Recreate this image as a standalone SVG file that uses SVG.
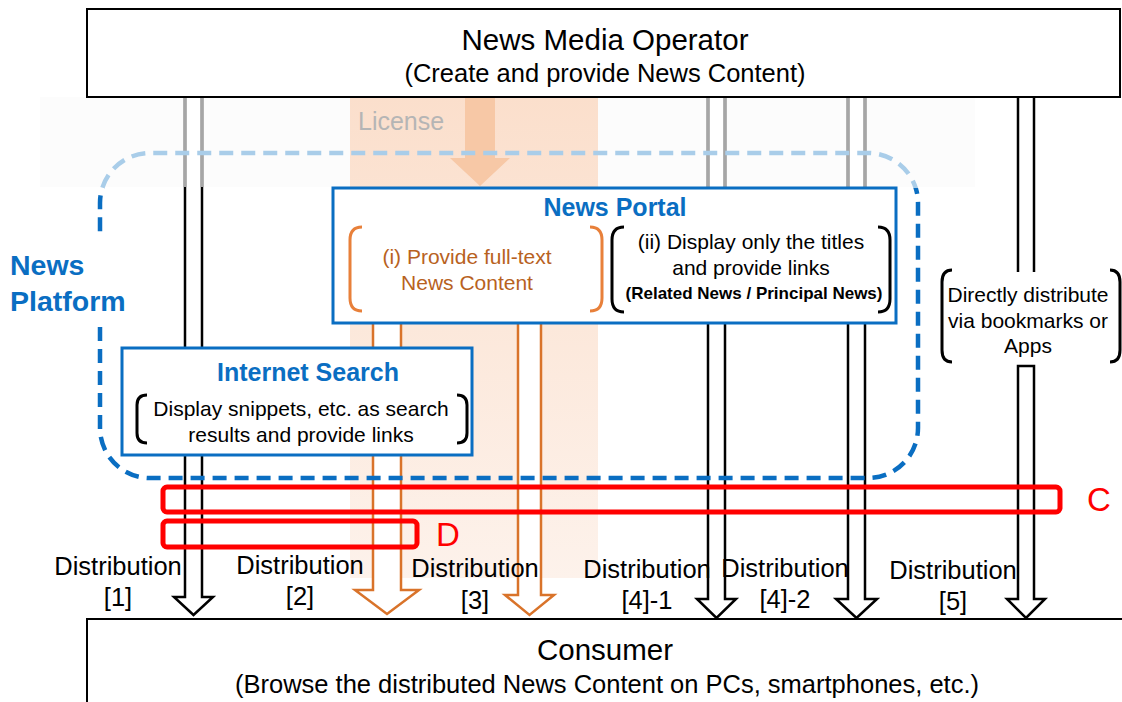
<svg xmlns="http://www.w3.org/2000/svg" width="1122" height="702" viewBox="0 0 1122 702">
<style>
text{font-family:"Liberation Sans",Arial,sans-serif;}
.box{fill:#fff;stroke:#000;stroke-width:2;}
.blue{fill:#fff;stroke:#0a6ec2;stroke-width:3;}
.t1{font-size:29.5px;text-anchor:middle;fill:#000;}
.t2{font-size:25.5px;text-anchor:middle;fill:#000;}
.tb{font-size:25px;font-weight:bold;text-anchor:middle;fill:#0a6ec2;}
.body{font-size:21px;text-anchor:middle;fill:#000;}
.org{font-size:21px;text-anchor:middle;fill:#b8621e;}
.dist{font-size:25.5px;text-anchor:middle;fill:#000;}
.brk{fill:none;stroke:#000;stroke-width:3;}
.brko{fill:none;stroke:#e8803a;stroke-width:3;}
.arr{fill:#fff;stroke:#000;stroke-width:2.5;}
.arro{fill:#fff;stroke:#d9732a;stroke-width:2.5;}
.gray{stroke:#a6a6a6;stroke-width:3;}
.red{fill:none;stroke:#f00;stroke-width:5;}
.redt{font-size:33px;fill:#f00;}
.dash{fill:none;stroke-width:4.5;stroke-dasharray:14 8;}
</style>
<defs>
<linearGradient id="band" x1="0" y1="0" x2="0" y2="1">
<stop offset="0" stop-color="#fbdfcc"/>
<stop offset="1" stop-color="#fdf2eb"/>
</linearGradient>
<clipPath id="upper"><rect x="0" y="0" width="1122" height="188"/></clipPath>
<clipPath id="lower"><rect x="0" y="188" width="1122" height="514"/></clipPath>
<path id="plat" d="M100,327 V428 A50,50 0 0 0 150,478 H868 A50,50 0 0 0 918,428 V203 A50,50 0 0 0 868,153 H150 A50,50 0 0 0 100,203 V237"/>
</defs>
<rect x="0" y="0" width="1122" height="702" fill="#fff"/>
<rect x="40" y="97" width="935" height="90" fill="#fcfcfc"/>
<rect x="350" y="97" width="248" height="481" fill="url(#band)"/>
<g id="license">
<polygon points="465,97 495,97 495,158 510,158 480,186 450,158 465,158" fill="#f7c8a6"/>
<text x="358" y="130" style="font-size:25px;fill:#b5b5b5;">License</text>
</g>
<g id="connectors">
<path class="arr" d="M185,97 V597 H174 L193.5,615 L213,597 H202 V97"/>
<path class="arro" d="M373,323 V590 H355 L387,614 L419,590 H401 V323"/>
<path class="arro" d="M518,323 V595 H505 L529.5,615 L554,595 H541 V323"/>
<path class="arr" d="M708,97 V599 H697 L716.5,618 L736,599 H725 V97"/>
<path class="arr" d="M848,97 V599 H836 L856.5,618 L877,599 H865 V97"/>
<path class="arr" d="M1018,366 V599 H1007 L1026,618 L1045,599 H1034 V366 Z"/>
<line x1="1018" y1="97" x2="1018" y2="272" stroke="#000" stroke-width="2.5"/>
<line x1="1034" y1="97" x2="1034" y2="272" stroke="#000" stroke-width="2.5"/>
<g class="gray">
<line x1="185" y1="98" x2="185" y2="187"/><line x1="202" y1="98" x2="202" y2="187"/>
<line x1="708" y1="98" x2="708" y2="187"/><line x1="725" y1="98" x2="725" y2="187"/>
<line x1="848" y1="98" x2="848" y2="187"/><line x1="865" y1="98" x2="865" y2="187"/>
</g>
</g>
<g id="news-platform">
<use href="#plat" class="dash" stroke="#a9cde9" clip-path="url(#upper)"/>
<use href="#plat" class="dash" stroke="#0a6ec2" clip-path="url(#lower)"/>
<text x="10" y="275" style="font-size:28.5px;font-weight:bold;fill:#0a6ec2;">News</text>
<text x="10" y="311" style="font-size:28.5px;font-weight:bold;fill:#0a6ec2;">Platform</text>
</g>
<g id="news-media-operator">
<rect class="box" x="87" y="9" width="1033" height="88"/>
<text class="t1" x="605" y="50">News Media Operator</text>
<text class="t2" x="605" y="82">(Create and provide News Content)</text>
</g>
<g id="news-portal">
<rect class="blue" x="333" y="188" width="563" height="135"/>
<text class="tb" x="615" y="216">News Portal</text>
<path class="brko" d="M362,227 Q350,227 350,240 V298 Q350,311 362,311"/>
<path class="brko" d="M590,227 Q602,227 602,240 V298 Q602,311 590,311"/>
<text class="org" x="467" y="264">(i) Provide full-text</text>
<text class="org" x="467" y="290">News Content</text>
<path class="brk" d="M624,227 Q612,227 612,240 V299 Q612,312 624,312"/>
<path class="brk" d="M878,227 Q890,227 890,240 V299 Q890,312 878,312"/>
<text class="body" x="751" y="249">(ii) Display only the titles</text>
<text class="body" x="751" y="275">and provide links</text>
<text x="754" y="299" style="font-size:17px;font-weight:bold;text-anchor:middle;">(Related News / Principal News)</text>
</g>
<g id="internet-search">
<rect class="blue" x="122" y="348" width="350" height="107"/>
<text class="tb" x="308" y="381">Internet Search</text>
<path class="brk" d="M147,395 Q137,395 137,405 V433 Q137,443 147,443"/>
<path class="brk" d="M457,395 Q467,395 467,405 V433 Q467,443 457,443"/>
<text class="body" x="301" y="416">Display snippets, etc. as search</text>
<text class="body" x="301" y="442">results and provide links</text>
</g>
<g id="direct">
<path class="brk" d="M952,270 Q942,270 942,282 V350 Q942,362 952,362"/>
<path class="brk" d="M1110,270 Q1120,270 1120,282 V350 Q1120,362 1110,362"/>
<text class="body" x="1028" y="302">Directly distribute</text>
<text class="body" x="1028" y="328">via bookmarks  or</text>
<text class="body" x="1028" y="353">Apps</text>
</g>
<g id="consumer">
<rect class="box" x="87" y="619" width="1040" height="100"/>
<text class="t1" x="605" y="660">Consumer</text>
<text class="t2" x="607" y="693">(Browse the distributed News Content on PCs, smartphones, etc.)</text>
</g>
<g id="labels">
<text class="dist" x="118" y="575">Distribution</text><text class="dist" x="118" y="606">[1]</text>
<text class="dist" x="300" y="574">Distribution</text><text class="dist" x="300" y="605">[2]</text>
<text class="dist" x="475" y="577">Distribution</text><text class="dist" x="475" y="609">[3]</text>
<text class="dist" x="647" y="578">Distribution</text><text class="dist" x="647" y="609">[4]-1</text>
<text class="dist" x="785" y="577">Distribution</text><text class="dist" x="785" y="608">[4]-2</text>
<text class="dist" x="953" y="579">Distribution</text><text class="dist" x="953" y="610">[5]</text>
</g>
<g id="highlights">
<rect class="red" x="163" y="487" width="897" height="25" rx="4"/>
<text class="redt" x="1087" y="511">C</text>
<rect class="red" x="163" y="521" width="254" height="26" rx="4"/>
<text class="redt" x="436" y="546">D</text>
</g>
</svg>
